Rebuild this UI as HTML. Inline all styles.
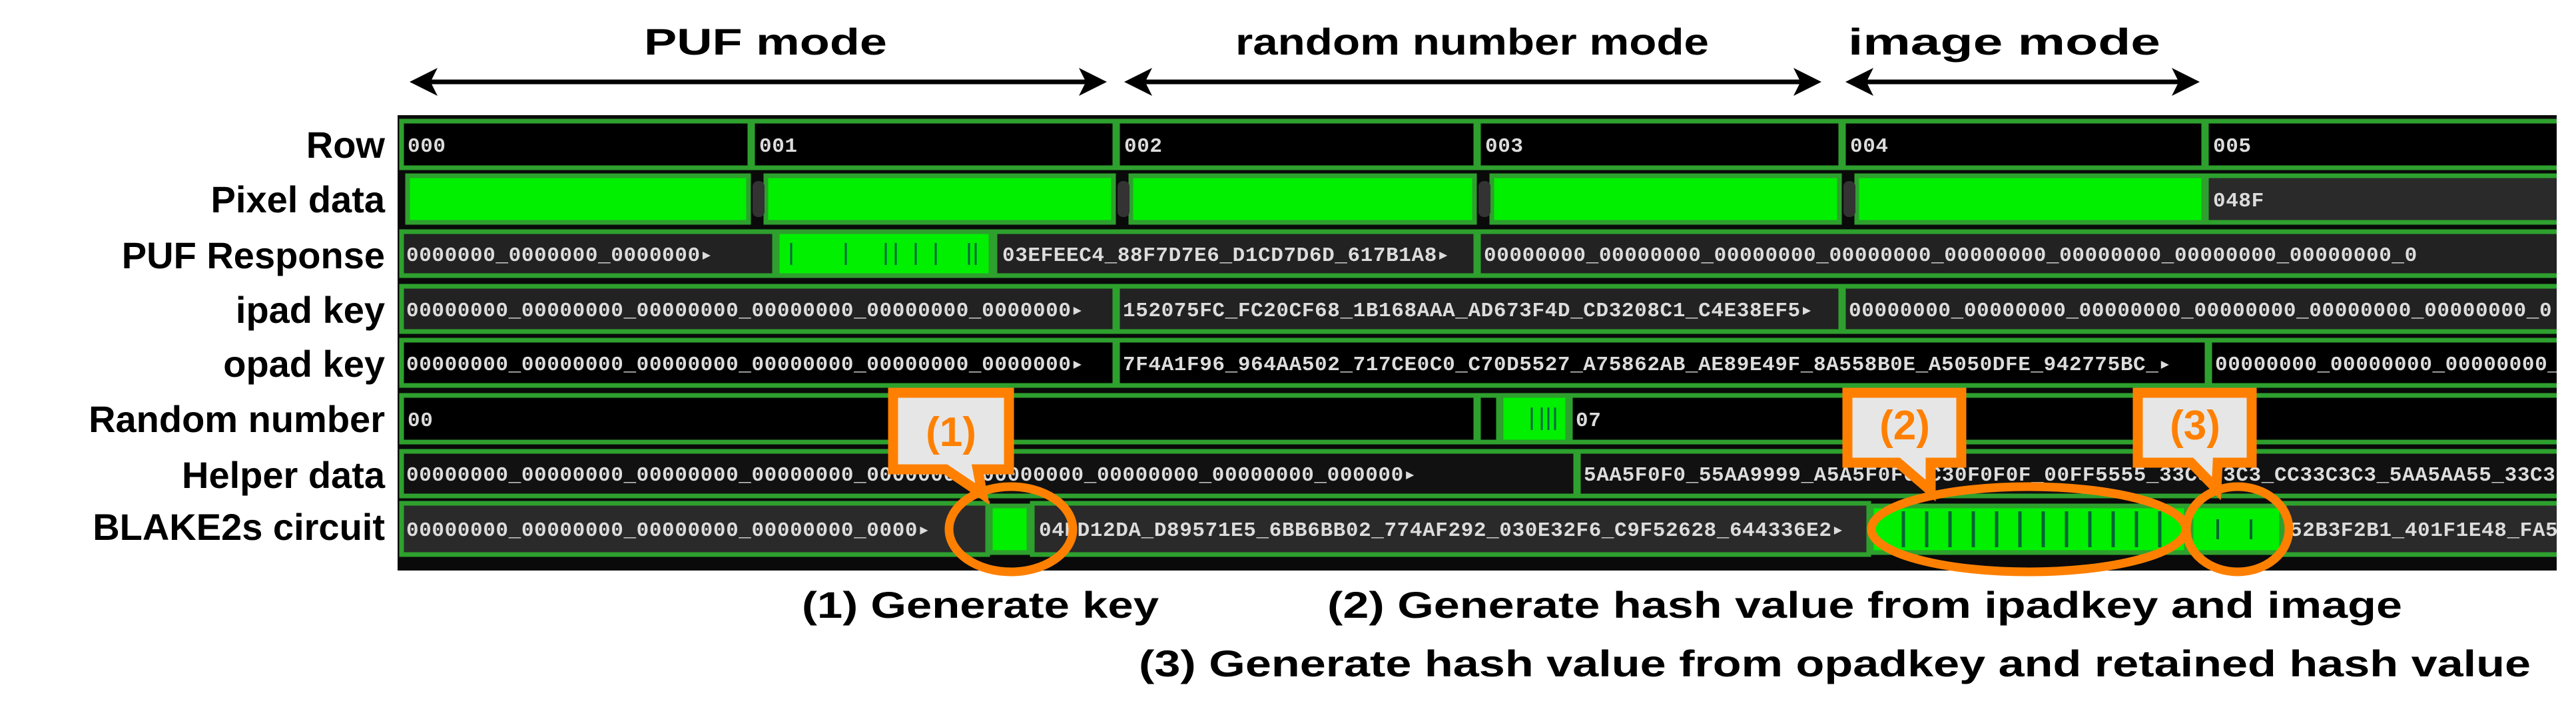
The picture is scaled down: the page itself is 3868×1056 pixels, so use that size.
<!DOCTYPE html>
<html><head><meta charset="utf-8"><style>
html,body{margin:0;padding:0;background:#fff;width:3868px;height:1056px;overflow:hidden}
svg{display:block}
.lbl{font-family:"Liberation Sans",Arial,sans-serif;font-weight:bold;font-size:56px;fill:#000}
.v{font-family:"Liberation Mono",monospace;font-size:31px;font-weight:bold;fill:#dcdcdc;letter-spacing:0.6px}
.seg{stroke:#2ea02e;stroke-width:7}
</style></head><body>
<svg width="3868" height="1056" viewBox="0 0 3868 1056" xmlns="http://www.w3.org/2000/svg">
<defs>
<marker id="ah" markerWidth="6" markerHeight="6" refX="5" refY="3" orient="auto-start-reverse" markerUnits="strokeWidth"><path d="M0,0 L6,3 L0,6 L1.5,3 z" fill="#000"/></marker>
</defs>
<text class="lbl" x="967" y="82" textLength="365" lengthAdjust="spacingAndGlyphs">PUF mode</text>
<text class="lbl" x="1855" y="82" textLength="711" lengthAdjust="spacingAndGlyphs">random number mode</text>
<text class="lbl" x="2775" y="82" textLength="469" lengthAdjust="spacingAndGlyphs">image mode</text>
<line x1="622" y1="123" x2="1655" y2="123" stroke="#000" stroke-width="7" marker-start="url(#ah)" marker-end="url(#ah)"/>
<line x1="1695" y1="123" x2="2728" y2="123" stroke="#000" stroke-width="7" marker-start="url(#ah)" marker-end="url(#ah)"/>
<line x1="2778" y1="123" x2="3296" y2="123" stroke="#000" stroke-width="7" marker-start="url(#ah)" marker-end="url(#ah)"/>
<g text-anchor="end">
<text class="lbl" x="578" y="237">Row</text>
<text class="lbl" x="578" y="319">Pixel data</text>
<text class="lbl" x="578" y="403">PUF Response</text>
<text class="lbl" x="578" y="485">ipad key</text>
<text class="lbl" x="578" y="566">opad key</text>
<text class="lbl" x="578" y="649">Random number</text>
<text class="lbl" x="578" y="733">Helper data</text>
<text class="lbl" x="578" y="811">BLAKE2s circuit</text>
</g>
<rect x="597" y="173" width="3242" height="684" fill="#0a0a0a"/>
<g class="seg" fill="#000">
<rect x="603" y="182" width="523" height="70"/>
<rect x="1130" y="182" width="544" height="70"/>
<rect x="1678" y="182" width="538" height="70"/>
<rect x="2220" y="182" width="544" height="70"/>
<rect x="2768" y="182" width="541" height="70"/>
<rect x="3313" y="182" width="530" height="70"/>
</g>
<g class="v">
<text x="612" y="228">000</text><text x="1140" y="228">001</text><text x="1688" y="228">002</text>
<text x="2230" y="228">003</text><text x="2778" y="228">004</text><text x="3323" y="228">005</text>
</g>
<g class="seg" fill="#00f000">
<rect x="612" y="264" width="512" height="70"/>
<rect x="1150" y="264" width="522" height="70"/>
<rect x="1698" y="264" width="516" height="70"/>
<rect x="2240" y="264" width="522" height="70"/>
<rect x="2788" y="264" width="521" height="70"/>
</g>
<g fill="#333"><rect x="1130" y="272" width="18" height="54" rx="8"/><rect x="1678" y="272" width="18" height="54" rx="8"/><rect x="2220" y="272" width="18" height="54" rx="8"/><rect x="2768" y="272" width="18" height="54" rx="8"/></g>
<rect class="seg" x="3313" y="264" width="530" height="70" fill="#2a2a2a"/>
<text class="v" x="3323" y="310">048F</text>
<rect class="seg" x="603" y="348" width="560" height="66" fill="#222"/>
<text class="v" x="610" y="392">0000000_0000000_0000000▸</text>
<rect class="seg" x="1167" y="348" width="321" height="66" fill="#00f000"/>
<g stroke="#064" stroke-width="3"><line x1="1188" y1="365" x2="1188" y2="398"/><line x1="1270" y1="365" x2="1270" y2="398"/><line x1="1330" y1="365" x2="1330" y2="398"/><line x1="1345" y1="365" x2="1345" y2="398"/><line x1="1375" y1="365" x2="1375" y2="398"/><line x1="1405" y1="365" x2="1405" y2="398"/><line x1="1455" y1="365" x2="1455" y2="398"/><line x1="1465" y1="365" x2="1465" y2="398"/></g>
<rect class="seg" x="1494" y="348" width="722" height="66" fill="#222"/>
<text class="v" x="1505" y="392">03EFEEC4_88F7D7E6_D1CD7D6D_617B1A8▸</text>
<rect class="seg" x="2220" y="348" width="1623" height="66" fill="#222"/>
<text class="v" x="2228" y="392">00000000_00000000_00000000_00000000_00000000_00000000_00000000_00000000_0</text>
<rect class="seg" x="603" y="430" width="1071" height="68" fill="#222"/>
<text class="v" x="610" y="475">00000000_00000000_00000000_00000000_00000000_0000000▸</text>
<rect class="seg" x="1678" y="430" width="1086" height="68" fill="#222"/>
<text class="v" x="1686" y="475">152075FC_FC20CF68_1B168AAA_AD673F4D_CD3208C1_C4E38EF5▸</text>
<rect class="seg" x="2768" y="430" width="1075" height="68" fill="#222"/>
<text class="v" x="2776" y="475">00000000_00000000_00000000_00000000_00000000_00000000_0</text>
<rect class="seg" x="603" y="511" width="1071" height="68" fill="#000"/>
<text class="v" x="610" y="556">00000000_00000000_00000000_00000000_00000000_0000000▸</text>
<rect class="seg" x="1678" y="511" width="1636" height="68" fill="#000"/>
<text class="v" x="1686" y="556">7F4A1F96_964AA502_717CE0C0_C70D5527_A75862AB_AE89E49F_8A558B0E_A5050DFE_942775BC_▸</text>
<rect class="seg" x="3318" y="511" width="525" height="68" fill="#000"/>
<text class="v" x="3326" y="556">00000000_00000000_00000000_0</text>
<rect class="seg" x="603" y="594" width="1613" height="70" fill="#000"/>
<text class="v" x="612" y="640">00</text>
<rect class="seg" x="2220" y="594" width="30" height="70" fill="#000"/>
<rect class="seg" x="2254" y="594" width="100" height="70" fill="#00f000"/>
<g stroke="#064" stroke-width="3"><line x1="2300" y1="612" x2="2300" y2="646"/><line x1="2315" y1="612" x2="2315" y2="646"/><line x1="2325" y1="612" x2="2325" y2="646"/><line x1="2335" y1="612" x2="2335" y2="646"/></g>
<rect class="seg" x="2358" y="594" width="1485" height="70" fill="#000"/>
<text class="v" x="2366" y="640">07</text>
<rect class="seg" x="603" y="678" width="1763" height="67" fill="#111"/>
<text class="v" x="610" y="722">00000000_00000000_00000000_00000000_00000000_00000000_00000000_00000000_000000▸</text>
<rect class="seg" x="2370" y="678" width="1473" height="67" fill="#111"/>
<text class="v" x="2378" y="722">5AA5F0F0_55AA9999_A5A5F0F0_C30F0F0F_00FF5555_33C3C3C3_CC33C3C3_5AA5AA55_33C3</text>
<rect class="seg" x="603" y="756" width="880" height="77" fill="#2a2a2a"/>
<text class="v" x="610" y="805">00000000_00000000_00000000_00000000_0000▸</text>
<rect class="seg" x="1487" y="760" width="58" height="70" fill="#00f000"/>
<rect class="seg" x="1550" y="756" width="1256" height="77" fill="#2a2a2a"/>
<text class="v" x="1560" y="805">04BD12DA_D89571E5_6BB6BB02_774AF292_030E32F6_C9F52628_644336E2▸</text>
<rect class="seg" x="2810" y="760" width="473" height="70" fill="#00f000"/>
<g stroke="#063" stroke-width="5"><line x1="2858" y1="768" x2="2858" y2="822"/><line x1="2893" y1="768" x2="2893" y2="822"/><line x1="2928" y1="768" x2="2928" y2="822"/><line x1="2963" y1="768" x2="2963" y2="822"/><line x1="2998" y1="768" x2="2998" y2="822"/><line x1="3033" y1="768" x2="3033" y2="822"/><line x1="3068" y1="768" x2="3068" y2="822"/><line x1="3103" y1="768" x2="3103" y2="822"/><line x1="3138" y1="768" x2="3138" y2="822"/><line x1="3173" y1="768" x2="3173" y2="822"/><line x1="3208" y1="768" x2="3208" y2="822"/><line x1="3243" y1="768" x2="3243" y2="822"/></g>
<rect class="seg" x="3290" y="760" width="136" height="70" fill="#00f000"/>
<g stroke="#063" stroke-width="4"><line x1="3330" y1="780" x2="3330" y2="810"/><line x1="3380" y1="780" x2="3380" y2="810"/></g>
<rect class="seg" x="3430" y="756" width="413" height="77" fill="#2a2a2a"/>
<text class="v" x="3438" y="805">52B3F2B1_401F1E48_FA5</text>
<rect x="3839" y="160" width="40" height="710" fill="#fff"/>
<g fill="none" stroke="#ff8000" stroke-width="13">
<ellipse cx="1518" cy="795" rx="93" ry="64"/>
<ellipse cx="3046" cy="795" rx="236" ry="64"/>
<ellipse cx="3360" cy="795" rx="77" ry="64"/>
</g>
<g fill="#e6e6e6" stroke="#ff8000" stroke-width="15" stroke-linejoin="miter">
<path d="M1341,590 H1515 V705 H1468 L1475,742 L1420,705 H1341 Z"/>
<path d="M2774,590 H2945 V695 H2899 L2899,737 L2850,695 H2774 Z"/>
<path d="M3210,590 H3381 V695 H3330 L3328,734 L3290,695 H3210 Z"/>
</g>
<g font-family="Liberation Sans, Arial, sans-serif" font-weight="bold" font-size="62" fill="#ff8000" text-anchor="middle">
<text x="1428" y="670">(1)</text>
<text x="2860" y="660">(2)</text>
<text x="3296" y="660">(3)</text>
</g>
<text class="lbl" x="1204" y="928" textLength="536" lengthAdjust="spacingAndGlyphs">(1) Generate key</text>
<text class="lbl" x="1993" y="928" textLength="1614" lengthAdjust="spacingAndGlyphs">(2) Generate hash value from ipadkey and image</text>
<text class="lbl" x="1710" y="1016" textLength="2090" lengthAdjust="spacingAndGlyphs">(3) Generate hash value from opadkey and retained hash value</text>
</svg>
</body></html>
